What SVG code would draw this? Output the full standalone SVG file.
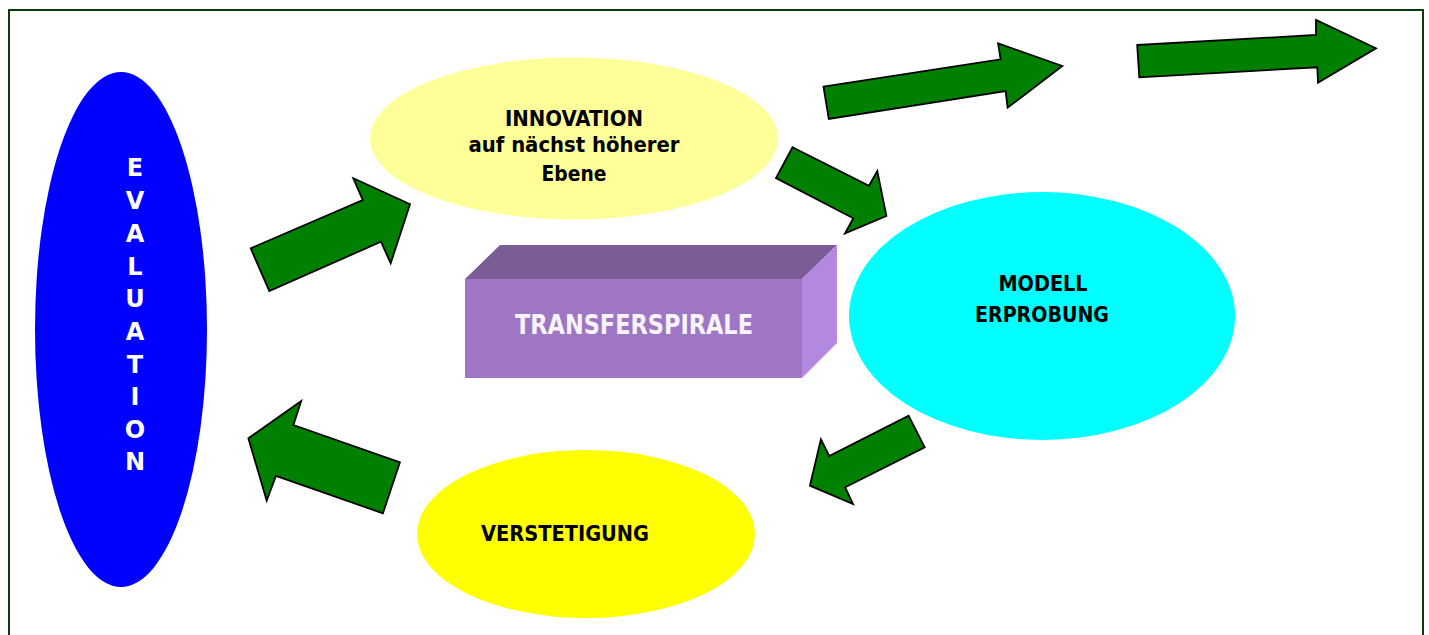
<svg xmlns="http://www.w3.org/2000/svg" width="1429" height="635" viewBox="0 0 1429 635">
<style>
.lbl{font-family:"DejaVu Sans Condensed","DejaVu Sans",sans-serif;font-weight:bold;fill:#000;text-anchor:middle;font-size:22px}
.ev{font-family:"DejaVu Sans",sans-serif;font-weight:bold;fill:#fff;font-size:24px;text-anchor:middle}
.arr{fill:#008000;stroke:#000;stroke-width:1.8;stroke-linejoin:miter}
</style>
<rect x="0" y="0" width="1429" height="635" fill="#fff"/>
<rect x="9" y="10" width="1414" height="640" fill="none" stroke="#0b3a0b" stroke-width="2"/>
<g id="evaluation">
<ellipse cx="121" cy="329.5" rx="86" ry="257.5" fill="#0000ff"/>
<text class="ev" x="135" y="176">E</text>
<text class="ev" x="135" y="209">V</text>
<text class="ev" x="135" y="242">A</text>
<text class="ev" x="135" y="274.5">L</text>
<text class="ev" x="135" y="307">U</text>
<text class="ev" x="135" y="340">A</text>
<text class="ev" x="135" y="372.5">T</text>
<text class="ev" x="135" y="405">I</text>
<text class="ev" x="135" y="437.5">O</text>
<text class="ev" x="135" y="470">N</text>
</g>
<g id="innovation">
<ellipse cx="574" cy="138.5" rx="204" ry="81" fill="#ffff99"/>
<text class="lbl" x="574" y="126" textLength="138" lengthAdjust="spacingAndGlyphs">INNOVATION</text>
<text class="lbl" x="574" y="152" textLength="211" lengthAdjust="spacingAndGlyphs">auf nächst höherer</text>
<text class="lbl" x="574" y="181" textLength="65" lengthAdjust="spacingAndGlyphs">Ebene</text>
</g>
<g id="modell">
<ellipse cx="1042" cy="316" rx="193" ry="124" fill="#00ffff"/>
<text class="lbl" x="1043" y="290.5" textLength="89" lengthAdjust="spacingAndGlyphs">MODELL</text>
<text class="lbl" x="1042" y="322" textLength="134" lengthAdjust="spacingAndGlyphs">ERPROBUNG</text>
</g>
<g id="verstetigung">
<ellipse cx="586" cy="534" rx="169" ry="84" fill="#ffff00"/>
<text class="lbl" x="565" y="540.5" textLength="168" lengthAdjust="spacingAndGlyphs">VERSTETIGUNG</text>
</g>
<g id="transferspirale">
<polygon points="465,279 500,245 837,245 802,279" fill="#7a5c96"/>
<polygon points="802,279 837,245 837,343 802,378" fill="#b288e0"/>
<rect x="465" y="279" width="337" height="99" fill="#9e76c4"/>
<text x="634" y="334" font-family="'DejaVu Sans Condensed','DejaVu Sans',sans-serif" font-weight="bold" font-size="27" fill="#f8f4fb" text-anchor="middle" textLength="238" lengthAdjust="spacingAndGlyphs">TRANSFERSPIRALE</text>
</g>
<g id="connectors">
<polygon class="arr" points="250.7,248.3 362.7,200 353.3,178.3 410,204.3 390.7,263.3 381,241.7 269.3,291"/>
<polygon class="arr" points="792.5,147.3 869,185.7 877.3,171 886.4,216 845,233.3 853.3,218.3 776,178"/>
<polygon class="arr" points="823.5,86.7 1000.6,59.3 998.1,43.3 1062.3,66 1007.6,107.7 1005.6,91 828.8,119"/>
<polygon class="arr" points="1137.2,45 1316,35 1316,20 1376,48.3 1318,82.7 1317.3,67.3 1139.3,77.3"/>
<polygon class="arr" points="248.4,438.3 301.2,401 293.4,425 399.9,462.3 382.9,513.3 275.9,476 266.7,500.7"/>
<polygon class="arr" points="908.6,415.7 924.7,447.3 845.2,487.3 853,504 809.9,485.7 820.9,439.3 829.2,456"/>
</g>
</svg>
